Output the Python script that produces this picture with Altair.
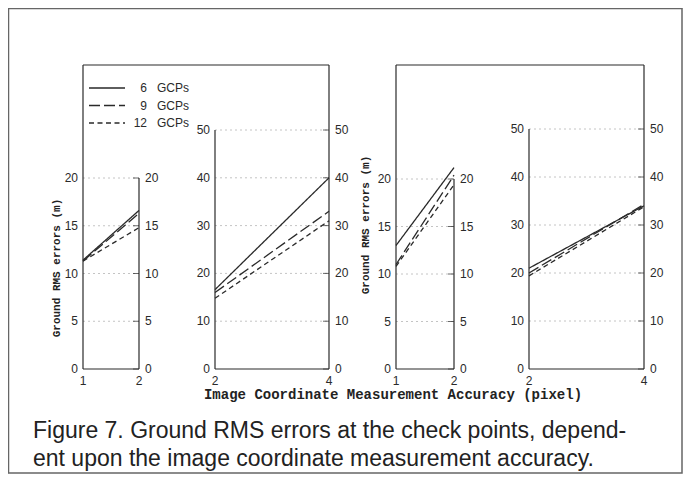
import altair as alt
import pandas as pd

# ---------------- data ----------------
series = ["6 GCPs", "9 GCPs", "12 GCPs"]

# panel 1 : left group, accuracy 1-2 pixel
p1_x = [1, 2]
p1_6 = [11.4, 16.6]
p1_9 = [11.3, 16.3]
p1_12 = [11.3, 14.8]
# panel 2 : left group, accuracy 2-4 pixel
p2_x = [2, 4]
p2_6 = [16.6, 40.0]
p2_9 = [16.0, 33.0]
p2_12 = [14.8, 31.0]
# panel 3 : right group, accuracy 1-2 pixel
p3_x = [1, 2]
p3_6 = [13.0, 21.2]
p3_9 = [11.0, 20.4]
p3_12 = [10.8, 19.4]
# panel 4 : right group, accuracy 2-4 pixel
p4_x = [2, 4]
p4_6 = [21.0, 34.0]
p4_9 = [20.0, 34.3]
p4_12 = [19.4, 33.8]

small_ticks = [0, 5, 10, 15, 20]
large_ticks = [0, 10, 20, 30, 40, 50]

x_title = "Image Coordinate Measurement Accuracy (pixel)"
y_title = "Ground RMS errors (m)"
caption = [
    "Figure 7. Ground RMS errors at the check points, depend-",
    "ent upon the image coordinate measurement accuracy.",
]

# ---------------- layout / style ----------------
W, H = 675, 466
BOTTOM = 361
BOX_TOP = 57
INK = "#2a2a2a"
GRID = "#c4c4c4"
LABEL_FONT = "Liberation Sans"
MONO = "Liberation Mono"
dashes = [[1, 0], [11, 4], [5, 3.5]]

panels = [
    dict(x=p1_x, vals=[p1_6, p1_9, p1_12], ticks=small_ticks, xr=[75, 131], ytop=170, side="A"),
    dict(x=p2_x, vals=[p2_6, p2_9, p2_12], ticks=large_ticks, xr=[207, 321], ytop=122, side="B"),
    dict(x=p3_x, vals=[p3_6, p3_9, p3_12], ticks=small_ticks, xr=[388, 446], ytop=171, side="A"),
    dict(x=p4_x, vals=[p4_6, p4_9, p4_12], ticks=large_ticks, xr=[521, 636], ytop=121, side="B"),
]

dash_scale = alt.Scale(domain=series, range=dashes)

layers = []

# outer frame
one = pd.DataFrame({"a": [0]})
layers.append(alt.Chart(one).mark_rect(fill=None, stroke="#666666", strokeWidth=1.5).encode(
    x=alt.value(0.5), x2=alt.value(W - 1), y=alt.value(0.5), y2=alt.value(H - 1)))

for p in panels:
    x0, x1 = p["x"][0], p["x"][-1]
    ymax = p["ticks"][-1]
    xs = alt.Scale(domain=[x0, x1], range=p["xr"], nice=False, zero=False)
    ys = alt.Scale(domain=[0, ymax], range=[BOTTOM, p["ytop"]], nice=False, zero=False)

    tick_df = pd.DataFrame({
        "v": p["ticks"],
        "lab": [str(t) for t in p["ticks"]],
        "x0": x0, "x1": x1,
    })
    X0 = alt.X("x0:Q", scale=xs, axis=None)
    X1 = alt.X("x1:Q", scale=xs, axis=None)
    YV = alt.Y("v:Q", scale=ys, axis=None)

    # dotted grid
    layers.append(alt.Chart(tick_df[tick_df.v > 0]).mark_rule(
        color=GRID, strokeDash=[2, 3], strokeWidth=1).encode(x=X0, x2="x1:Q", y=YV))
    # left / right tick labels
    layers.append(alt.Chart(tick_df).mark_text(
        align="right", baseline="middle", dx=-5, font=LABEL_FONT, fontSize=12, color=INK
    ).encode(x=X0, y=YV, text="lab:N"))
    layers.append(alt.Chart(tick_df).mark_text(
        align="left", baseline="middle", dx=6, font=LABEL_FONT, fontSize=12, color=INK
    ).encode(x=X1, y=YV, text="lab:N"))
    # inward ticks on right axis
    layers.append(alt.Chart(tick_df).mark_tick(
        orient="horizontal", size=6, thickness=1, xOffset=-3, color=INK
    ).encode(x=X1, y=YV))

    # x tick labels
    xl_df = pd.DataFrame({"x": [x0, x1], "lab": [str(x0), str(x1)], "y0": 0})
    layers.append(alt.Chart(xl_df).mark_text(
        align="center", baseline="middle", dy=12, font=LABEL_FONT, fontSize=12, color=INK
    ).encode(x=alt.X("x:Q", scale=xs, axis=None), y=alt.Y("y0:Q", scale=ys, axis=None), text="lab:N"))

    # axis frame lines of the panel
    ax_df = pd.DataFrame({"x0": [x0], "x1": [x1], "y0": [0], "y1": [ymax]})
    Y0 = alt.Y("y0:Q", scale=ys, axis=None)
    layers.append(alt.Chart(ax_df).mark_rule(color=INK, strokeWidth=1.2).encode(
        x=X0, x2="x1:Q", y=Y0))
    inner = X1 if p["side"] == "A" else X0
    layers.append(alt.Chart(ax_df).mark_rule(color=INK, strokeWidth=1.2).encode(
        x=inner, y=Y0, y2="y1:Q"))

    # data lines
    rows = []
    for s, vals in zip(series, p["vals"]):
        for xv, yv in zip(p["x"], vals):
            rows.append({"series": s, "x": xv, "y": yv})
    layers.append(alt.Chart(pd.DataFrame(rows)).mark_line(color=INK, strokeWidth=1.3).encode(
        x=alt.X("x:Q", scale=xs, axis=None),
        y=alt.Y("y:Q", scale=ys, axis=None),
        strokeDash=alt.StrokeDash("series:N", scale=dash_scale, legend=None),
        detail="series:N",
    ))

# group boxes (top, left, right borders)
for a, b in [(panels[0], panels[1]), (panels[2], panels[3])]:
    L, R = a["xr"][0], b["xr"][1]
    layers.append(alt.Chart(one).mark_rule(color=INK, strokeWidth=1.2).encode(
        x=alt.value(L), x2=alt.value(R), y=alt.value(BOX_TOP)))
    for xx in (L, R):
        layers.append(alt.Chart(one).mark_rule(color=INK, strokeWidth=1.2).encode(
            x=alt.value(xx), y=alt.value(BOX_TOP), y2=alt.value(BOTTOM)))

# legend (drawn inside the left box)
leg_df = pd.DataFrame({"series": series, "num": [s.split()[0] for s in series], "word": "GCPs"})
ly = alt.Y("series:N", scale=alt.Scale(type="point", domain=series, range=[80, 115], padding=0), axis=None)
layers.append(alt.Chart(leg_df).mark_rule(color=INK, strokeWidth=1.3).encode(
    x=alt.value(81), x2=alt.value(117), y=ly,
    strokeDash=alt.StrokeDash("series:N", scale=dash_scale, legend=None)))
layers.append(alt.Chart(leg_df).mark_text(
    align="right", baseline="middle", font=LABEL_FONT, fontSize=12, color=INK
).encode(x=alt.value(139), y=ly, text="num:N"))
layers.append(alt.Chart(leg_df).mark_text(
    align="left", baseline="middle", font=LABEL_FONT, fontSize=12, color=INK
).encode(x=alt.value(149), y=ly, text="word:N"))

# titles
for xx, yy in ((49, 260), (358, 217)):
    layers.append(alt.Chart(pd.DataFrame({"t": [y_title]})).mark_text(
        angle=270, align="center", baseline="middle", font=MONO, fontSize=11,
        fontWeight="bold", color="#222222"
    ).encode(x=alt.value(xx), y=alt.value(yy), text="t:N"))
layers.append(alt.Chart(pd.DataFrame({"t": [x_title]})).mark_text(
    align="center", baseline="middle", font=MONO, fontSize=14, fontWeight="bold", color="#222222"
).encode(x=alt.value(385), y=alt.value(387), text="t:N"))
for i, line in enumerate(caption):
    layers.append(alt.Chart(pd.DataFrame({"t": [line]})).mark_text(
        align="left", baseline="middle", font=LABEL_FONT, fontSize=23, color="#222222"
    ).encode(x=alt.value(25), y=alt.value(423 + 28 * i), text="t:N"))

chart = alt.layer(*layers).resolve_scale(
    x="independent", y="independent", strokeDash="shared"
).properties(
    width=W, height=H, autosize=alt.AutoSizeParams(type="none"), padding=0
).configure_view(stroke=None).configure(background="white")

chart.save("out.html", embed_options={"renderer": "svg", "actions": False})
